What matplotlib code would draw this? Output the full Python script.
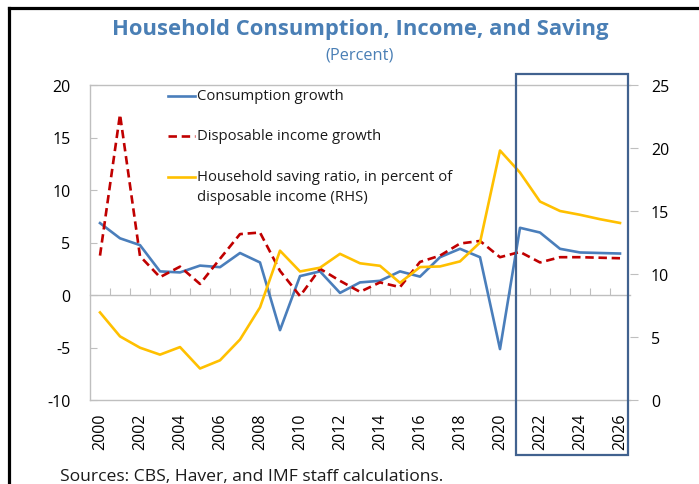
import matplotlib
matplotlib.use("Agg")
import matplotlib.pyplot as plt
from matplotlib.lines import Line2D
from matplotlib.patches import Rectangle

plt.rcParams['font.family'] = ['Open Sans', 'DejaVu Sans']

years = list(range(2000, 2027))
consumption = [6.85, 5.4, 4.75, 2.25, 2.15, 2.8, 2.65, 4.0, 3.1, -3.35, 1.8, 2.25, 0.2,
               1.2, 1.35, 2.25, 1.75, 3.6, 4.4, 3.6, -5.15, 6.4, 5.95, 4.4, 4.05, 4.0, 3.95]
income = [3.75, 17.2, 3.7, 1.7, 2.7, 1.05, 3.45, 5.8, 5.95, 2.3, -0.1, 2.5, 1.35,
          0.3, 1.2, 0.75, 3.15, 3.75, 4.9, 5.15, 3.6, 4.1, 3.1, 3.6, 3.6, 3.55, 3.5]
saving = [6.95, 5.05, 4.15, 3.6, 4.2, 2.5, 3.15, 4.8, 7.35, 11.85, 10.2, 10.5, 11.6,
          10.85, 10.65, 9.3, 10.55, 10.6, 11.0, 12.5, 19.8, 18.05, 15.75, 15.0, 14.7, 14.35, 14.05]

labels = ["Consumption growth", "Disposable income growth",
          "Household saving ratio, in percent of\ndisposable income (RHS)"]
left_ticks = [-10, -5, 0, 5, 10, 15, 20]
right_ticks = [0, 5, 10, 15, 20, 25]
xtick_years = list(range(2000, 2027, 2))

BLUE = "#4a7ebb"
RED = "#c00000"
YELLOW = "#ffc000"
GRAY = "#bfbfbf"
TITLE = "#4a7fb5"
BOX = "#41628f"

fig = plt.figure(figsize=(6.99, 4.85), dpi=100)
W, H = 699, 485
ax = fig.add_axes([90 / W, 1 - 401 / H, 540 / W, 315 / H])
ax2 = ax.twinx()

ax.plot(years, consumption, color=BLUE, lw=1.9, solid_joinstyle='round')
ax.plot(years, income, color=RED, lw=1.9, ls=(0, (3.2, 1.8)))
ax2.plot(years, saving, color=YELLOW, lw=1.9, solid_joinstyle='round')

ymin, ymax = left_ticks[0], left_ticks[-1]
ax.set_ylim(ymin, ymax)
ax2.set_ylim(right_ticks[0], right_ticks[-1])
ax.set_xlim(years[0] - 0.5, years[-1] + 0.5)

ax.set_yticks(left_ticks)
ax.set_yticklabels([str(v) for v in left_ticks])
ax2.set_yticks(right_ticks)
ax2.set_yticklabels([str(v) for v in right_ticks])

for sp in ['left', 'top', 'bottom']:
    ax.spines[sp].set_color(GRAY)
    ax.spines[sp].set_linewidth(1.0)
ax.spines['right'].set_visible(False)
for sp in ['left', 'top', 'bottom', 'right']:
    ax2.spines[sp].set_visible(False)

ax.tick_params(axis='y', direction='in', length=5, color=GRAY, pad=14,
               labelsize=11.5, labelcolor='black')
ax2.tick_params(axis='y', direction='out', length=6, color=GRAY, pad=9,
                labelsize=11.5, labelcolor='black')

ax.set_xticks(xtick_years)
ax.set_xticklabels([str(y) for y in xtick_years], rotation=90)
ax.tick_params(axis='x', length=0, pad=9, labelsize=11.5)

# zero line with category boundary ticks
zero_frac = (0 - ymin) / (ymax - ymin)
sec = ax.secondary_xaxis(zero_frac)
bounds = [y + 0.5 for y in years[:-1]]
sec.set_xticks(bounds)
sec.set_xticklabels([''] * len(bounds))
sec.tick_params(direction='in', length=5, color=GRAY)
sec.spines['bottom'].set_color(GRAY)
sec.spines['bottom'].set_linewidth(1.0)

# legend drawn manually
colors = [BLUE, RED, YELLOW]
styles = ['-', (0, (3.2, 1.8)), '-']
ys = [(401 - 97) / 315, (401 - 137) / 315, (401 - 178) / 315]
for lab, c, st, yy in zip(labels, colors, styles, ys):
    ax2.add_line(Line2D([(168 - 90) / 540, (195 - 90) / 540], [yy, yy], color=c, lw=1.9,
                        ls=st, transform=ax.transAxes, clip_on=False))
    for i, line in enumerate(lab.split("\n")):
        ax2.text((197 - 90) / 540, yy - i * 20 / 315, line, transform=ax.transAxes,
                 ha='left', va='center', fontsize=10.7, color='#1a1a1a')

# projection box
ax2.add_patch(Rectangle(((515.7 - 90) / 540, (401 - 456) / 315),
                        (628 - 515.7) / 540, (456 - 75) / 315,
                        transform=ax.transAxes, fill=False, edgecolor=BOX, lw=1.6,
                        clip_on=False, zorder=5))

# titles
fig.text(360 / W, 1 - 30 / H, "Household Consumption, Income, and Saving", ha='center',
         va='center', fontsize=15.8, fontweight='bold', color=TITLE)
fig.text(360 / W, 1 - 56 / H, "(Percent)", ha='center', va='center', fontsize=11.8,
         color=TITLE)
fig.text(60 / W, 1 - 477 / H, "Sources: CBS, Haver, and IMF staff calculations.",
         ha='left', va='center', fontsize=12.6, color='#1a1a1a')

# outer frame (top and left)
fig.add_artist(Line2D([9 / W, 9 / W], [0, 1 - 9 / H], color='black', lw=2.3,
                      transform=fig.transFigure))
fig.add_artist(Line2D([9 / W, 1], [1 - 9 / H, 1 - 9 / H], color='black', lw=2.3,
                      transform=fig.transFigure))

fig.savefig("out.png", dpi=100)
